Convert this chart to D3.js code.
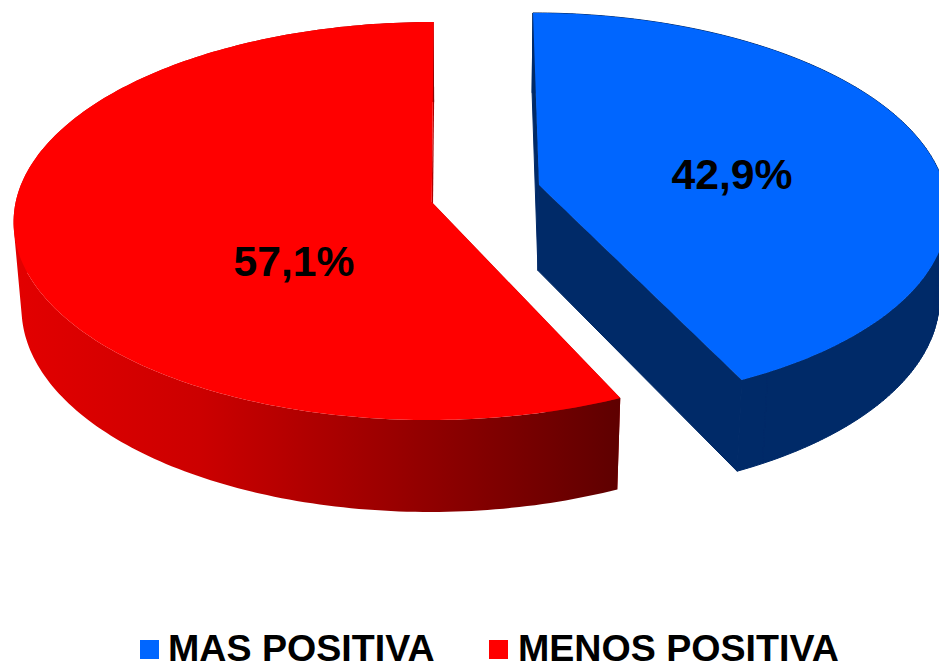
<!DOCTYPE html>
<html><head><meta charset="utf-8">
<script src="https://cdn.jsdelivr.net/npm/d3@7"></script>
<style>html,body{margin:0;padding:0;background:#fff;overflow:hidden}svg{display:block}text{font-family:"Liberation Sans",Arial,sans-serif;font-weight:bold;fill:#000}</style>
</head><body>
<script>
const categories = ["MAS POSITIVA", "MENOS POSITIVA"];
const values = [42.9, 57.1];
const valueLabels = ["42,9%", "57,1%"];
const topColors = ["#0066ff", "#ff0000"];

const W = 939, H = 666;
// view settings of the 3D projection, one per exploded slice
const view = {depth: 85.5, depthP: 0.07, shrink: 0.018};
const sliceViews = [
  {cx: 483, ax: 539, ay: 185, R: 405, K: 192.7, p: 0.12, tweak: [0, 0]},
  {cx: 455, ax: 431.7, ay: 202, R: 416, K: 197.2, p: 0.0955, tweak: [0.8, 0]}
];
const labelOffset = [[193, 3.5], [-137.7, 74]];
const legendLayout = {square: 19, squareY: 640, baseline: 661, squareX: [140, 489], textX: [168, 518], font: 37.6};
const deg = Math.PI / 180;

const svg = d3.select("body").append("svg").attr("width", W).attr("height", H);
const defs = svg.append("defs");
const grad = defs.append("linearGradient").attr("id", "redSide").attr("gradientUnits", "userSpaceOnUse")
  .attr("x1", 20).attr("x2", 617).attr("y1", 0).attr("y2", 0);
[[0, "#e20000"], [0.3, "#cc0000"], [0.65, "#960000"], [1, "#5f0000"]].forEach(s => grad.append("stop").attr("offset", s[0]).attr("stop-color", s[1]));
const sideFill = ["#002a68", "url(#redSide)"];
const wallFill = ["#002a68", "#b00000"];

function projector(sv) {
  return (u, v, h) => {
    const f = 1 / (1 - sv.p * v), s = 1 - view.shrink * h, fd = 1 / (1 - view.depthP * v);
    return [sv.cx + ((sv.ax - sv.cx) + u * sv.R) * f * s, sv.ay + sv.K * v * f + h * view.depth * fd];
  };
}
const line = d3.line();
const pie = d3.pie().sort(null);
const arcs = pie(values);

arcs.forEach((a, i) => {
  const sv = sliceViews[i], project = projector(sv);
  const a0 = a.startAngle + sv.tweak[0] * deg, a1 = a.endAngle + sv.tweak[1] * deg;
  const g = svg.append("g");
  const angles = d3.range(0, 201).map(k => a0 + (a1 - a0) * k / 200);
  const rim = h => angles.map(t => project(Math.sin(t), -Math.cos(t), h));
  const apex = h => project(0, 0, h);
  const top = rim(0), bottom = rim(1);
  const ends = [[top[0], bottom[0]], [top[200], bottom[200]]];
  const sideStroke = i === 0 ? sideFill[i] : "none";
  ends.forEach(e => {
    g.append("path").attr("d", line([apex(0), e[0], e[1], apex(1)]) + "Z")
      .attr("fill", wallFill[i]).attr("stroke", sideStroke).attr("stroke-width", 1);
  });
  // the rim as one path of equally oriented quads, so the silhouette stays closed
  const quads = d3.range(0, 200).map(k => {
    const q = [top[k], top[k + 1], bottom[k + 1], bottom[k]];
    return line(d3.polygonArea(q) < 0 ? q.slice().reverse() : q) + "Z";
  }).join("");
  g.append("path").attr("d", quads).attr("fill", sideFill[i]).attr("stroke", sideStroke).attr("stroke-width", 1);
  g.append("path").attr("d", line([apex(0)].concat(top)) + "Z").attr("fill", topColors[i]);
  const p = apex(0);
  g.append("text").attr("x", p[0] + labelOffset[i][0]).attr("y", p[1] + labelOffset[i][1])
    .attr("text-anchor", "middle").attr("font-size", 42.7).text(valueLabels[i]);
});

categories.forEach((c, i) => {
  svg.append("rect").attr("x", legendLayout.squareX[i]).attr("y", legendLayout.squareY)
    .attr("width", legendLayout.square).attr("height", legendLayout.square).attr("fill", topColors[i]);
  svg.append("text").attr("x", legendLayout.textX[i]).attr("y", legendLayout.baseline)
    .attr("font-size", legendLayout.font).text(c);
});
</script>
</body></html>
